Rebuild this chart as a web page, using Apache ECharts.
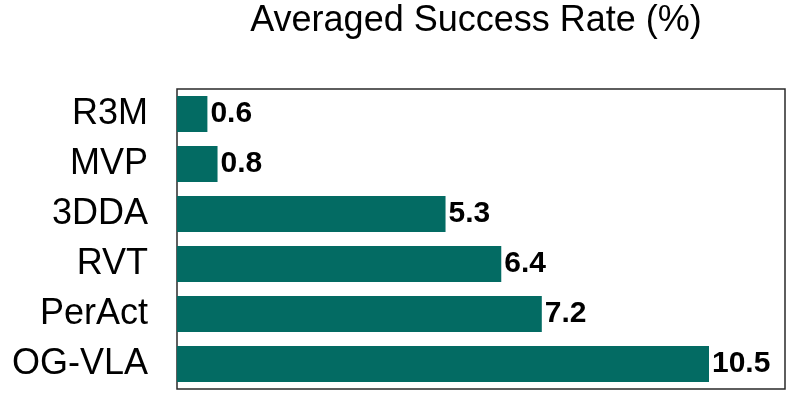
<!DOCTYPE html>
<html>
<head>
<meta charset="utf-8">
<script src="https://cdn.jsdelivr.net/npm/echarts@6/dist/echarts.min.js"></script>
<style>
  html, body { margin: 0; padding: 0; background: #fff; }
  #chart { width: 797px; height: 398px; }
</style>
</head>
<body>
<div id="chart"></div>
<script>
// methods, top to bottom
const methods = ['R3M', 'MVP', '3DDA', 'RVT', 'PerAct', 'OG-VLA']
const successRate = [0.6, 0.8, 5.3, 6.4, 7.2, 10.5]

const chart = echarts.init(document.getElementById('chart'))
const option = {
  animation: false,
  title: {
    text: 'Averaged Success Rate (%)',
    left: 471,
    textAlign: 'center',
    top: -2,
    textStyle: {
      fontFamily: 'Liberation Sans',
      fontWeight: 'normal',
      fontSize: 36,
      color: '#000'
    }
  },
  grid: {
    left: 177,
    top: 89,
    width: 608,
    height: 300,
    show: true,
    borderColor: '#2a2a2a',
    borderWidth: 1.5,
    backgroundColor: 'transparent'
  },
  xAxis: {
    type: 'value',
    min: 0,
    max: 12,
    axisLine: { show: false },
    axisTick: { show: false },
    axisLabel: { show: false },
    splitLine: { show: false }
  },
  yAxis: {
    type: 'category',
    data: methods,
    inverse: true,
    axisLine: { show: false },
    axisTick: { show: false },
    axisLabel: {
      margin: 29,
      fontFamily: 'Liberation Sans',
      fontSize: 36,
      color: '#000'
    }
  },
  series: [{
    type: 'bar',
    data: successRate,
    barWidth: '72%',
    itemStyle: { color: '#036b63' },
    label: {
      show: true,
      position: 'right',
      distance: 3,
      formatter: p => p.value.toFixed(1),
      fontFamily: 'Liberation Sans',
      fontWeight: 'bold',
      fontSize: 30,
      color: '#000'
    }
  }]
}
chart.setOption(option)
window.addEventListener('resize', () => chart.resize())
</script>
</body>
</html>
